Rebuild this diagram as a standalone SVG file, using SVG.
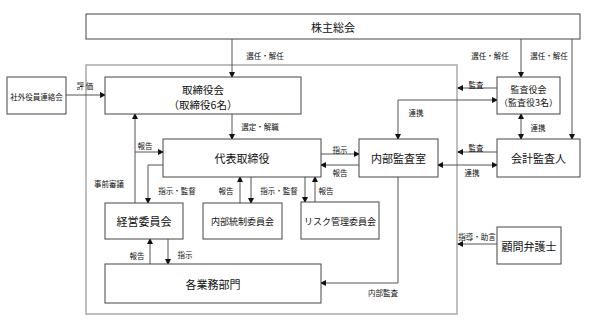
<svg xmlns="http://www.w3.org/2000/svg" width="600" height="328" viewBox="0 0 600 328">
<style>
.box{fill:#fff;stroke:#444;stroke-width:1}
.ln{fill:none;stroke:#555;stroke-width:1}
.t{font-family:"Noto Sans CJK JP","Liberation Sans",sans-serif;fill:#111;text-anchor:middle;dominant-baseline:central}
.big{font-size:11px}
.two{font-size:10.5px}
.mid{font-size:9px}
.sm{font-size:7.5px}
</style>
<defs>
<marker id="a" markerWidth="6" markerHeight="6" refX="5" refY="3" orient="auto-start-reverse" markerUnits="userSpaceOnUse">
<path d="M0,0 L6,3 L0,6 z" fill="#111"/>
</marker>
</defs>
<rect width="600" height="328" fill="#fff"/>
<rect id="container" x="86" y="65" width="371" height="249" fill="none" stroke="#aaa" stroke-width="1.5"/>

<g id="connectors">
<path class="ln" d="M232,39 V77" marker-end="url(#a)"/>
<path class="ln" d="M521,39 V77" marker-end="url(#a)"/>
<path class="ln" d="M572,39 V139" marker-end="url(#a)"/>
<path class="ln" d="M66,95 H105" marker-end="url(#a)"/>
<path class="ln" d="M232,114 V139" marker-end="url(#a)"/>
<path class="ln" d="M497,88 H458" marker-end="url(#a)"/>
<path class="ln" d="M398,139 V100 H497" marker-start="url(#a)" marker-end="url(#a)"/>
<path class="ln" d="M521,114 V139" marker-start="url(#a)" marker-end="url(#a)"/>
<path class="ln" d="M497,152 H458" marker-end="url(#a)"/>
<path class="ln" d="M438,165 H497" marker-start="url(#a)" marker-end="url(#a)"/>
<path class="ln" d="M321,154 H359" marker-end="url(#a)"/>
<path class="ln" d="M359,165 H321" marker-end="url(#a)"/>
<path class="ln" d="M305,177 V202" marker-end="url(#a)"/>
<path class="ln" d="M315,202 V177" marker-end="url(#a)"/>
<path class="ln" d="M240,203 V177" marker-end="url(#a)"/>
<path class="ln" d="M251,177 V203" marker-end="url(#a)"/>
<path class="ln" d="M163,165 H148 V203" marker-end="url(#a)"/>
<path class="ln" d="M135,203 V114" marker-end="url(#a)"/>
<path class="ln" d="M135,152 H163" marker-end="url(#a)"/>
<path class="ln" d="M150,264 V239" marker-end="url(#a)"/>
<path class="ln" d="M168,239 V264" marker-end="url(#a)"/>
<path class="ln" d="M398,177 V283 H321" marker-end="url(#a)"/>
<path class="ln" d="M497,244 H458" marker-end="url(#a)"/>
<g class="t sm">
<text x="265" y="55">選任・解任</text>
<text x="490" y="55">選任・解任</text>
<text x="549" y="55">選任・解任</text>
<text x="85" y="85.5">評 価</text>
<text x="260" y="126">選定・解職</text>
<text x="476" y="84">監査</text>
<text x="416" y="112">連携</text>
<text x="538" y="127">連携</text>
<text x="476" y="147">監査</text>
<text x="472" y="172">連携</text>
<text x="340" y="149">指示</text>
<text x="340" y="172">報告</text>
<text x="326" y="190">報告</text>
<text x="226" y="190">報告</text>
<text x="279" y="190">指示・監督</text>
<text x="177" y="190">指示・監督</text>
<text x="145" y="145">報告</text>
<text x="109" y="183">事前審議</text>
<text x="137" y="255">報告</text>
<text x="185" y="254">指示</text>
<text x="383" y="292">内部監査</text>
<text x="477" y="236">指導・助言</text>
</g>
</g>

<g id="kabunushi"><rect class="box" x="86" y="14" width="494" height="25"/><text class="t big" x="333" y="27">株主総会</text></g>
<g id="shagai"><rect class="box" x="7" y="77" width="59" height="37"/><text class="t sm" x="36.5" y="96">社外役員連絡会</text></g>
<g id="torishimariyakukai"><rect class="box" x="105" y="77" width="196" height="37"/><text class="t two" x="203" y="89">取締役会</text><text class="t two" x="203" y="104">（取締役6名）</text></g>
<g id="kansayakukai"><rect class="box" x="497" y="77" width="63" height="37"/><text class="t mid" x="528.5" y="89.5">監査役会</text><text class="t mid" x="528.5" y="102.5">（監査役3名）</text></g>
<g id="daihyo"><rect class="box" x="163" y="139" width="158" height="38"/><text class="t big" x="242" y="158">代表取締役</text></g>
<g id="naibukansa"><rect class="box" x="359" y="139" width="79" height="38"/><text class="t big" x="398.5" y="158">内部監査室</text></g>
<g id="kaikei"><rect class="box" x="497" y="139" width="83" height="38"/><text class="t big" x="538.5" y="158">会計監査人</text></g>
<g id="keiei"><rect class="box" x="105" y="203" width="78" height="36"/><text class="t big" x="144" y="221">経営委員会</text></g>
<g id="naibutousei"><rect class="box" x="203" y="203" width="79" height="36"/><text class="t mid" x="242.5" y="221">内部統制委員会</text></g>
<g id="risk"><rect class="box" x="301" y="202" width="78" height="37"/><text class="t mid" x="340" y="221">リスク管理委員会</text></g>
<g id="gyomu"><rect class="box" x="105" y="264" width="216" height="39"/><text class="t big" x="213" y="284">各業務部門</text></g>
<g id="komon"><rect class="box" x="497" y="227" width="64" height="37"/><text class="t big" x="529" y="246">顧問弁護士</text></g>
</svg>
